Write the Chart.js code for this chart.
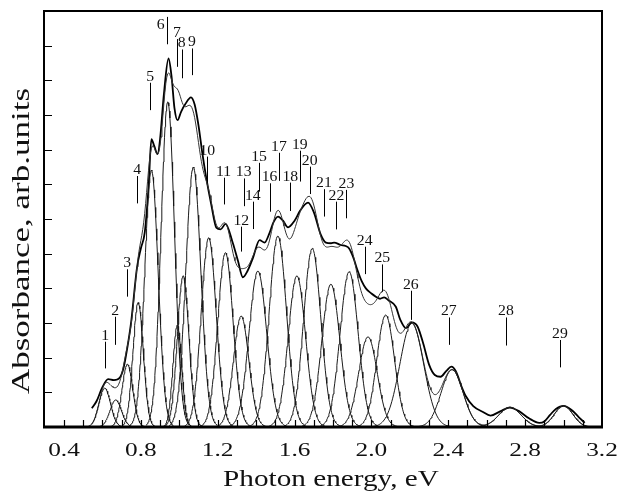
<!DOCTYPE html>
<html>
<head>
<meta charset="utf-8">
<script src="https://cdn.jsdelivr.net/npm/chart.js@4.4.0/dist/chart.umd.min.js"></script>
<style>
html,body{margin:0;padding:0;background:#fff}
.preload{font-family:"Liberation Serif";position:absolute;left:-999px;top:0}
</style>
</head>
<body>
<span class="preload">Photon 0.4 Absorbance</span>
<canvas id="absorbance-chart" width="618" height="491"></canvas>
<script>
// gaussian components of the deconvolution (eV, arb. units, eV)
var peakCenters = [0.612, 0.669, 0.730, 0.786, 0.855, 0.940, 0.990, 1.020, 1.073, 1.153, 1.240, 1.322,
                   1.409, 1.513, 1.612, 1.692, 1.789, 1.884, 1.982, 2.074, 2.210, 2.420, 2.721, 3.000];
var peakHeights = [1.12, 0.78, 1.81, 3.59, 7.41, 9.38, 2.94, 4.36, 7.50, 5.46, 5.03, 3.20,
                   4.50, 5.51, 4.36, 5.15, 4.12, 4.48, 2.60, 3.23, 2.99, 1.65, 0.57, 0.61];
var peakWidths  = [0.030, 0.030, 0.028, 0.027, 0.035, 0.035, 0.023, 0.030, 0.039, 0.039, 0.040, 0.040,
                   0.046, 0.045, 0.045, 0.045, 0.047, 0.047, 0.048, 0.046, 0.062, 0.057, 0.058, 0.048];

// measured spectrum
var measuredEnergy = [0.545, 0.57, 0.60, 0.63, 0.66, 0.69, 0.71, 0.73, 0.75, 0.78, 0.80, 0.82, 0.84, 0.855,
  0.87, 0.887, 0.90, 0.92, 0.944, 0.96, 0.975, 0.991, 1.01, 1.03, 1.061, 1.08, 1.10, 1.12, 1.14, 1.167,
  1.193, 1.215, 1.241, 1.279, 1.305, 1.331, 1.355, 1.383, 1.418, 1.444, 1.47, 1.49, 1.514, 1.54, 1.566,
  1.60, 1.63, 1.67, 1.70, 1.737, 1.763, 1.79, 1.806, 1.84, 1.866, 1.884, 1.905, 1.927, 1.95, 1.971, 2.0,
  2.023, 2.045, 2.066, 2.09, 2.127, 2.15, 2.18, 2.21, 2.24, 2.27, 2.30, 2.33, 2.36, 2.39, 2.416, 2.44,
  2.47, 2.49, 2.53, 2.578, 2.62, 2.67, 2.72, 2.77, 2.82, 2.874, 2.90, 2.93, 2.96, 3.0, 3.04, 3.08, 3.11];
var measuredAbs = [0.54, 0.75, 1.15, 1.38, 1.35, 1.42, 1.7, 2.3, 3.05, 4.6, 5.15, 5.6, 6.9, 8.3,
  8.1, 7.87, 8.3, 9.6, 10.63, 10.1, 9.2, 8.85, 9.1, 9.3, 9.51, 9.3, 8.7, 7.9, 7.2, 6.4,
  5.75, 5.7, 5.86, 5.3, 4.8, 4.32, 4.5, 4.87, 5.39, 5.32, 5.6, 5.9, 6.07, 5.95, 5.76,
  5.95, 6.25, 6.47, 6.2, 5.54, 5.32, 5.3, 5.32, 5.25, 5.22, 5.15, 4.9, 4.53, 4.2, 4.0, 3.85,
  3.76, 3.7, 3.74, 3.65, 3.47, 3.1, 2.85, 3.02, 2.9, 2.4, 1.8, 1.5, 1.45, 1.62, 1.74, 1.6,
  1.15, 0.9, 0.6, 0.44, 0.33, 0.45, 0.56, 0.45, 0.25, 0.12, 0.16, 0.35, 0.52, 0.61, 0.5, 0.28, 0.12];

// peak markers: number, energy, top and bottom of the marker bar
var markerNames  = ['1','2','3','4','5','6','7','8','9','10','11','12','13','14','15','16','17','18','19','20',
                    '21','22','23','24','25','26','27','28','29'];
var markerEnergy = [0.615, 0.667, 0.729, 0.781, 0.849, 0.935, 0.988, 1.012, 1.066, 1.146, 1.231, 1.323, 1.335,
                    1.383, 1.415, 1.470, 1.519, 1.578, 1.627, 1.679, 1.753, 1.818, 1.870, 1.965, 2.057, 2.205,
                    2.403, 2.700, 2.981];
var markerTop    = [2.46, 3.18, 4.55, 7.24, 9.93, 11.83, 11.19, 10.89, 10.92, 7.80, 7.19, 5.78, 7.17, 6.50,
                    7.62, 7.03, 7.91, 7.05, 7.97, 7.51, 6.86, 6.50, 6.84, 5.20, 4.69, 3.93, 3.16, 3.16, 2.51];
var markerBottom = [1.69, 2.37, 3.76, 6.45, 9.14, 11.04, 10.39, 10.06, 10.15, 7.05, 6.42, 5.06, 6.37, 5.71,
                    6.79, 6.21, 7.10, 6.23, 7.08, 6.72, 6.07, 5.70, 6.02, 4.41, 3.90, 3.09, 2.37, 2.35, 1.72];

var xTickValues = [0.4, 0.8, 1.2, 1.6, 2.0, 2.4, 2.8, 3.2];
var xTickLabels = ['0.4', '0.8', '1.2', '1.6', '2.0', '2.4', '2.8', '3.2'];

var serif = '"Liberation Serif", serif';

function gaussian(x, c, h, s) {
  return h * Math.exp(-(x - c) * (x - c) / (2 * s * s));
}

var datasets = [];
for (var k = 0; k < peakCenters.length; k++) {
  var pts = [];
  for (var i = 0; i <= 80; i++) {
    var x = peakCenters[k] - 3.2 * peakWidths[k] + i * 6.4 * peakWidths[k] / 80;
    pts.push({x: x, y: gaussian(x, peakCenters[k], peakHeights[k], peakWidths[k])});
  }
  datasets.push({data: pts, borderColor: '#1a1a1a', borderWidth: 1, tension: 0});
}

var fit = [];
for (var j = 0; j <= 515; j++) {
  var e = 0.545 + j * 0.005, sum = 0;
  for (var m = 0; m < peakCenters.length; m++) sum += gaussian(e, peakCenters[m], peakHeights[m], peakWidths[m]);
  fit.push({x: e, y: sum});
}
datasets.push({data: fit, borderColor: '#333', borderWidth: 1, tension: 0});

datasets.push({
  data: measuredEnergy.map(function(v, i) { return {x: v, y: measuredAbs[i]}; }),
  borderColor: '#000', borderWidth: 1.8, cubicInterpolationMode: 'monotone'
});

function wideText(ctx, text, x, y, sx, rot) {
  ctx.save();
  ctx.translate(x, y);
  if (rot) ctx.rotate(rot);
  ctx.scale(sx, 1);
  ctx.fillText(text, 0, 0);
  ctx.restore();
}

var frameAndLabels = {
  id: 'frameAndLabels',
  afterDatasetsDraw: function(chart) {
    var ctx = chart.ctx, xs = chart.scales.x, ys = chart.scales.y, a = chart.chartArea;
    ctx.save();
    ctx.strokeStyle = '#000';
    ctx.fillStyle = '#111';

    // inward ticks
    ctx.lineWidth = 1.2;
    ctx.beginPath();
    for (var i = 4; i <= 31; i++) {
      var px = Math.round(xs.getPixelForValue(i / 10)) + 0.5;
      ctx.moveTo(px, a.bottom);
      ctx.lineTo(px, a.bottom - 7);
    }
    for (var t = 1; t < 12; t++) {
      var py = Math.round(ys.getPixelForValue(t)) + 0.5;
      ctx.moveTo(a.left, py);
      ctx.lineTo(a.left + 8, py);
    }
    ctx.stroke();

    // frame
    ctx.lineWidth = 2;
    ctx.strokeRect(a.left, a.top, a.right - a.left, a.bottom - a.top);
    ctx.lineWidth = 3;
    ctx.beginPath();
    ctx.moveTo(a.left - 1, a.bottom);
    ctx.lineTo(a.right + 1, a.bottom);
    ctx.stroke();

    // tick labels
    ctx.textAlign = 'center';
    ctx.textBaseline = 'alphabetic';
    ctx.font = '19.5px ' + serif;
    xTickValues.forEach(function(v, i) {
      wideText(ctx, xTickLabels[i], xs.getPixelForValue(v), 456, 1.3);
    });

    // axis titles
    ctx.font = '23px ' + serif;
    wideText(ctx, 'Photon energy, eV', 331, 486, 1.27);
    ctx.font = '25px ' + serif;
    wideText(ctx, 'Absorbance, arb.units', 29, 241, 1.4, -Math.PI / 2);

    // peak markers
    ctx.lineWidth = 1;
    ctx.font = '15px ' + serif;
    ctx.beginPath();
    markerNames.forEach(function(n, i) {
      var px = Math.round(xs.getPixelForValue(markerEnergy[i])) + 0.5;
      ctx.moveTo(px, ys.getPixelForValue(markerTop[i]));
      ctx.lineTo(px, ys.getPixelForValue(markerBottom[i]));
    });
    ctx.stroke();
    markerNames.forEach(function(n, i) {
      var px = xs.getPixelForValue(markerEnergy[i]);
      var py = ys.getPixelForValue(markerTop[i]);
      if (n === '6') {
        wideText(ctx, n, px - 6, py + 12, 1.05);
      } else {
        wideText(ctx, n, px, py - 2, 1.05);
      }
    });
    ctx.restore();
  }
};

function drawChart() {
  new Chart(document.getElementById('absorbance-chart'), {
    type: 'line',
    data: {datasets: datasets},
    options: {
      responsive: false,
      animation: false,
      layout: {padding: {left: 44, right: 16, top: 11, bottom: 64}},
      elements: {point: {radius: 0}},
      plugins: {legend: {display: false}, tooltip: {enabled: false}},
      scales: {
        x: {type: 'linear', min: 0.296, max: 3.2, display: false},
        y: {type: 'linear', min: 0, max: 12, display: false}
      }
    },
    plugins: [frameAndLabels]
  });
}

Promise.all([
  document.fonts.load('20px "Liberation Serif"')
]).then(drawChart, drawChart);
</script>
</body>
</html>
